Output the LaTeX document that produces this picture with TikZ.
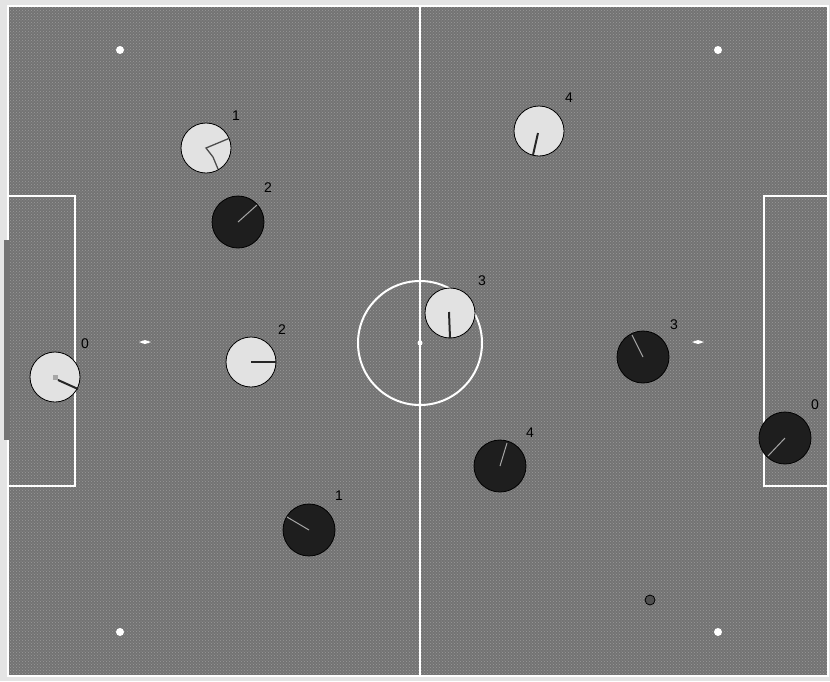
\documentclass[tikz,border=0pt]{standalone}
\usepackage{fontspec}
\setmainfont{Liberation Sans}
\usetikzlibrary{patterns}
\definecolor{field}{HTML}{737373}
\definecolor{fielddot}{HTML}{999999}
\definecolor{margin}{HTML}{E4E4E4}
\definecolor{lightp}{HTML}{E2E2E2}
\definecolor{darkp}{HTML}{1E1E1E}
\definecolor{ballc}{HTML}{505050}
\begin{document}
\begin{tikzpicture}[x=1pt,y=-1pt,
  fieldline/.style={draw=white,line width=2pt},
  lightplayer/.style={circle,draw=black,line width=0.8pt,fill=lightp,minimum size=50pt,inner sep=0pt},
  darkplayer/.style={circle,draw=black,line width=0.8pt,fill=darkp,minimum size=52pt,inner sep=0pt},
  lbl/.style={font=\fontsize{14}{14}\selectfont,text=black,inner sep=0pt},
  heading/.style={line width=2pt,draw=black!85},
  dheading/.style={line width=1pt,draw=gray!70},
  spot/.style={circle,fill=white,minimum size=8pt,inner sep=0pt}
]
\useasboundingbox (0,0) rectangle (830,681);
\fill[margin] (0,0) rectangle (830,681);
% field
\fill[field] (8,6) rectangle (828,676);
\fill[pattern=crosshatch dots,pattern color=fielddot] (8,6) rectangle (828,676);
% lines
\draw[fieldline] (8,6) rectangle (828,676);
\fill[field] (4,240) rectangle (9.5,440);
\draw[fieldline] (420,6) -- (420,676);
\draw[fieldline] (420,343) circle (62);
\draw[fieldline] (8,196) -- (75,196) -- (75,486) -- (8,486);
\draw[fieldline] (828,196) -- (764,196) -- (764,486) -- (828,486);
\fill[white] (420,343) circle (2.5);
% marks
\node[spot] (c1) at (120,50) {};
\node[spot] (c2) at (718,50) {};
\node[spot] (c3) at (120,632) {};
\node[spot] (c4) at (718,632) {};
\fill[white] (139,342) -- (145,340) -- (151,342) -- (145,344) -- cycle;
\fill[white] (692,342) -- (698,340) -- (704,342) -- (698,344) -- cycle;
% ball
\node[circle,draw=black,line width=0.8pt,fill=ballc,minimum size=10pt,inner sep=0pt] (ball) at (650,600) {};
% light team
\node[lightplayer] (w0) at (55,377) {};
\node[lightplayer] (w1) at (206,148) {};
\node[lightplayer] (w2) at (251,362) {};
\node[lightplayer] (w3) at (450,313) {};
\node[lightplayer] (w4) at (539,131) {};
% dark team
\node[darkplayer] (b0) at (785,438) {};
\node[darkplayer] (b1) at (309,530) {};
\node[darkplayer] (b2) at (238,222) {};
\node[darkplayer] (b3) at (643,357) {};
\node[darkplayer] (b4) at (500,466) {};
% headings light
\fill[gray!70] (53,375) rectangle (58,380);
\draw[heading] (58,380) -- (78,389);
\draw[line width=1.3pt,black!70] (218,169) -- (213,157) -- (206,148) -- (230,138);
\draw[heading] (251,362) -- (276,362);
\draw[heading] (449,312) -- (450,338);
\draw[heading] (538,133) -- (533,155);
% headings dark
\draw[dheading] (785,438) -- (768,456);
\draw[dheading] (309,530) -- (287,517);
\draw[dheading] (238,222) -- (257,205);
\draw[dheading] (643,357) -- (632,335);
\draw[dheading] (500,466) -- (507,443);
% labels
\node[lbl] (lw0) at (85,344) {0};
\node[lbl] (lw1) at (236,116) {1};
\node[lbl] (lw2) at (282,330) {2};
\node[lbl] (lw3) at (482,281) {3};
\node[lbl] (lw4) at (569,98) {4};
\node[lbl] (lb0) at (815,405) {0};
\node[lbl] (lb1) at (339,496) {1};
\node[lbl] (lb2) at (268,188) {2};
\node[lbl] (lb3) at (674,325) {3};
\node[lbl] (lb4) at (530,433) {4};
\end{tikzpicture}
\end{document}
